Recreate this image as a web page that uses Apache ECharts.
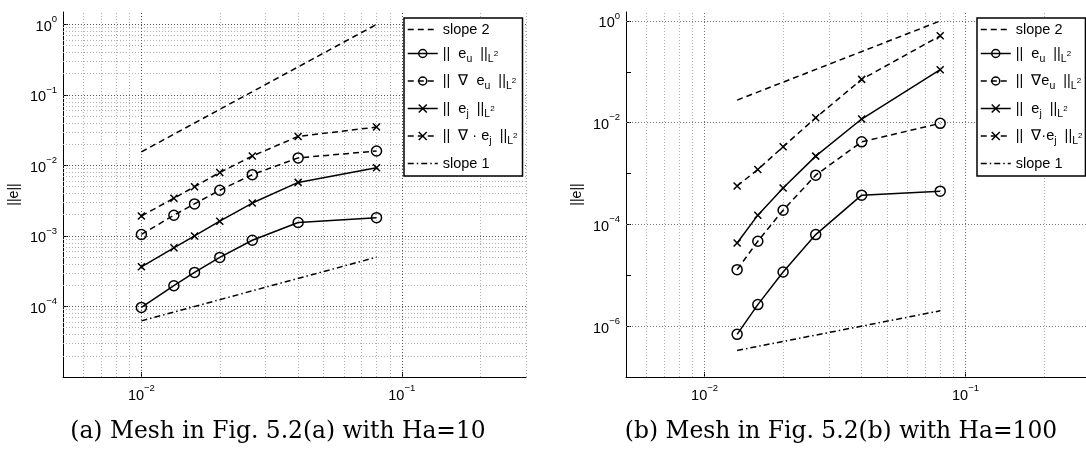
<!DOCTYPE html>
<html>
<head>
<meta charset="utf-8">
<script src="https://cdn.jsdelivr.net/npm/echarts@6/dist/echarts.min.js"></script>
<style>
  html, body { margin: 0; padding: 0; background: #fff; }
  #c { width: 1086px; height: 449px; }
</style>
</head>
<body>
<div id="c"></div>
<script>
// ---- panel (a): mesh of Fig. 5.2(a), Ha = 10 ----
const hA      = [0.01, 0.01333, 0.016, 0.02, 0.02667, 0.04, 0.08];
const euA     = [9.7e-5, 1.97e-4, 3.04e-4, 4.96e-4, 8.7e-4, 1.55e-3, 1.82e-3];
const gradEuA = [1.05e-3, 1.97e-3, 2.85e-3, 4.45e-3, 7.4e-3, 1.28e-2, 1.60e-2];
const ejA     = [3.65e-4, 6.8e-4, 1.0e-3, 1.62e-3, 2.93e-3, 5.75e-3, 9.25e-3];
const divEjA  = [1.92e-3, 3.43e-3, 4.99e-3, 7.95e-3, 1.36e-2, 2.58e-2, 3.5e-2];
const slopeHA = [0.01, 0.08];
const slope2A = [0.0156, 1.0];
const slope1A = [6.25e-5, 5.0e-4];

// ---- panel (b): mesh of Fig. 5.2(b), Ha = 100 ----
const hB      = [0.01333, 0.016, 0.02, 0.02667, 0.04, 0.08];
const euB     = [6.9e-7, 2.65e-6, 1.16e-5, 6.3e-5, 3.76e-4, 4.5e-4];
const gradEuB = [1.29e-5, 4.67e-5, 1.9e-4, 9.3e-4, 4.2e-3, 9.7e-3];
const ejB     = [4.3e-5, 1.52e-4, 5.2e-4, 2.2e-3, 1.18e-2, 0.11];
const divEjB  = [5.7e-4, 1.2e-3, 3.36e-3, 1.25e-2, 7.1e-2, 0.51];
const slopeHB = [0.01333, 0.08];
const slope2B = [0.0278, 1.0];
const slope1B = [3.33e-7, 2.0e-6];

// ---- axes ----
const xRange  = [0.005, 0.3];
const yRangeA = [1e-5, 1.5];
const yRangeB = [1e-7, 1.5];
const xTicks  = [0.01, 0.1];
const yTicksA = [1e-4, 1e-3, 1e-2, 1e-1, 1];
const yTicksB = [1e-6, 1e-5, 1e-4, 1e-3, 1e-2, 1e-1, 1];
const yLabelsA = [1e-4, 1e-3, 1e-2, 1e-1, 1];
const yLabelsB = [1e-6, 1e-4, 1e-2, 1];

// ---- grid lines ----
const mantissas = [2, 3, 4, 5, 6, 7, 8, 9];
const xDecades  = [0.001, 0.01, 0.1];
const yDecadesA = [1e-5, 1e-4, 1e-3, 1e-2, 1e-1];
const xMajor  = [0.01, 0.1];
const yMajorA = [1e-4, 1e-3, 1e-2, 1e-1, 1];
const yMajorB = [1e-6, 1e-4, 1e-2, 1];

const F = "'Liberation Sans', Arial, Helvetica, sans-serif";
const DASH = [6, 4];
const DASHDOT = [6, 3, 1.5, 3];
const CROSS = 'path://M0,0L10,10M10,0L0,10';

function inRange(v, r) { return v > r[0] * 1.0001 && v < r[1] * 0.9999; }
function minorList(decades, range) {
  const out = [];
  decades.forEach(d => mantissas.forEach(m => {
    const v = d * m;
    if (inRange(v, range) || Math.abs(v - range[1]) < 1e-9) out.push(v);
  }));
  return out;
}
const xMinor  = minorList(xDecades, xRange);
const yMinorA = minorList(yDecadesA, yRangeA);

function pairs(xs, ys) { return xs.map((x, i) => [x, ys[i]]); }

function powLabel(v, shown) {
  const e = Math.round(Math.log10(v));
  if (!shown.some(s => Math.abs(Math.log10(s) - e) < 1e-6)) return '';
  if (Math.abs(Math.log10(v) - e) > 1e-6) return '';
  return '{b|10}{s|' + (e < 0 ? '\u2212' + (-e) : String(e)) + '}';
}
const axisRich = {
  b: { fontSize: 14.5, fontFamily: F, color: '#000', lineHeight: 20, verticalAlign: 'bottom' },
  s: { fontSize: 9.5, fontFamily: F, color: '#000', lineHeight: 12, verticalAlign: 'top' }
};

function xAxisOf(gi) {
  return {
    type: 'log', gridIndex: gi, min: xRange[0], max: xRange[1], logBase: 10,
    axisLine: { show: true, lineStyle: { color: '#000', width: 1 } },
    axisTick: { show: true, inside: true, length: 5, customValues: xTicks, lineStyle: { color: '#000' } },
    axisLabel: { margin: 6, customValues: xTicks, formatter: v => powLabel(v, xTicks), rich: axisRich },
    splitLine: { show: false }, minorTick: { show: false }
  };
}
function yAxisOf(gi, range, ticks, labels) {
  return {
    type: 'log', gridIndex: gi, min: range[0], max: range[1], logBase: 10,
    name: '||e||', nameLocation: 'middle', nameGap: 42,
    nameTextStyle: { fontSize: 14, fontFamily: F, color: '#000' },
    axisLine: { show: true, lineStyle: { color: '#000', width: 1 } },
    axisTick: { show: true, inside: true, length: 5, customValues: ticks, lineStyle: { color: '#000' } },
    axisLabel: { margin: 6, customValues: labels, formatter: v => powLabel(v, labels), rich: axisRich },
    splitLine: { show: false }, minorTick: { show: false }
  };
}

function gridSeries(gi, xs, ys, color) {
  return {
    type: 'line', name: 'grid' + gi + color, xAxisIndex: gi, yAxisIndex: gi, data: [],
    silent: true,
    markLine: {
      silent: true, symbol: ['none', 'none'], label: { show: false }, animation: false, z: 1,
      precision: 12,
      emphasis: { disabled: true },
      lineStyle: { color: color, type: [1, 2], width: 1 },
      data: xs.map(v => ({ xAxis: v })).concat(ys.map(v => ({ yAxis: v })))
    }
  };
}

function curve(name, gi, xs, ys, dash, symbol) {
  const s = {
    type: 'line', name: name, xAxisIndex: gi, yAxisIndex: gi,
    data: pairs(xs, ys),
    lineStyle: { color: '#000', width: 1.5, type: dash },
    emphasis: { disabled: true },
    z: 3
  };
  if (symbol === 'o') {
    Object.assign(s, { symbol: 'circle', symbolSize: 10, showAllSymbol: true,
      itemStyle: { color: 'transparent', borderColor: '#000', borderWidth: 1.5 } });
  } else if (symbol === 'x') {
    Object.assign(s, { symbol: CROSS, symbolSize: 7, showAllSymbol: true,
      itemStyle: { color: 'transparent', borderColor: '#000', borderWidth: 1.5 } });
  } else {
    Object.assign(s, { symbol: 'none',
      itemStyle: { color: 'transparent', borderColor: 'transparent', borderWidth: 0 } });
  }
  return s;
}

const legendText = {
  'a:s2':  '{t|slope 2}',
  'a:eu':  '{t|||  e}{sb|u}{t|  ||}{sb|L}{sp|2}',
  'a:geu': '{t|||  \u2207  e}{sb|u}{t|  ||}{sb|L}{sp|2}',
  'a:ej':  '{t|||  e}{sb|j}{t|  ||}{sb|L}{sp|2}',
  'a:gej': '{t|||  \u2207 \u00b7 e}{sb|j}{t|  ||}{sb|L}{sp|2}',
  'a:s1':  '{t|slope 1}',
  'b:s2':  '{t|slope 2}',
  'b:eu':  '{t|||  e}{sb|u}{t|  ||}{sb|L}{sp|2}',
  'b:geu': '{t|||  \u2207e}{sb|u}{t|  ||}{sb|L}{sp|2}',
  'b:ej':  '{t|||  e}{sb|j}{t|  ||}{sb|L}{sp|2}',
  'b:gej': '{t|||  \u2207\u00b7e}{sb|j}{t|  ||}{sb|L}{sp|2}',
  'b:s1':  '{t|slope 1}'
};
const legendRich = {
  t:  { fontSize: 14.5, fontFamily: F, color: '#000', lineHeight: 22 },
  sb: { fontSize: 10.5, fontFamily: F, color: '#000', lineHeight: 12, verticalAlign: 'bottom' },
  sp: { fontSize: 8,  fontFamily: F, color: '#000', lineHeight: 12, verticalAlign: 'middle' }
};
function legendOf(prefix, left, padRight) {
  return {
    data: ['s2', 'eu', 'geu', 'ej', 'gej', 's1'].map(k => prefix + ':' + k),
    orient: 'vertical', left: left, top: 18, align: 'left',
    padding: [4, padRight, 5, 3], itemGap: 9, itemWidth: 30, itemHeight: 10,
    backgroundColor: '#fff', borderColor: '#000', borderWidth: 1.5, borderRadius: 0,
    selectedMode: false,
    lineStyle: { width: 1.5 },
    itemStyle: { borderWidth: 1.5 },
    formatter: n => legendText[n],
    textStyle: { fontSize: 14.5, fontFamily: F, color: '#000', rich: legendRich }
  };
}

const option = {
  animation: false,
  backgroundColor: '#fff',
  grid: [
    { left: 63, right: 560, top: 12, bottom: 72, outerBoundsMode: 'none' },
    { left: 626, right: -4, top: 12, bottom: 72, outerBoundsMode: 'none' }
  ],
  xAxis: [xAxisOf(0), xAxisOf(1)],
  yAxis: [yAxisOf(0, yRangeA, yTicksA, yLabelsA), yAxisOf(1, yRangeB, yTicksB, yLabelsB)],
  legend: [legendOf('a', 404, 5), legendOf('b', 977, 3)],
  series: [
    gridSeries(0, xMinor.filter(v => xMajor.indexOf(v) < 0), yMinorA, '#b0b0b0'),
    gridSeries(0, xMajor, yMajorA, '#555'),
    curve('a:s2', 0, slopeHA, slope2A, DASH, null),
    curve('a:eu', 0, hA, euA, 'solid', 'o'),
    curve('a:geu', 0, hA, gradEuA, DASH, 'o'),
    curve('a:ej', 0, hA, ejA, 'solid', 'x'),
    curve('a:gej', 0, hA, divEjA, DASH, 'x'),
    curve('a:s1', 0, slopeHA, slope1A, DASHDOT, null),

    gridSeries(1, xMinor.filter(v => xMajor.indexOf(v) < 0), [], '#b0b0b0'),
    gridSeries(1, xMajor, yMajorB, '#777'),
    curve('b:s2', 1, slopeHB, slope2B, DASH, null),
    curve('b:eu', 1, hB, euB, 'solid', 'o'),
    curve('b:geu', 1, hB, gradEuB, DASH, 'o'),
    curve('b:ej', 1, hB, ejB, 'solid', 'x'),
    curve('b:gej', 1, hB, divEjB, DASH, 'x'),
    curve('b:s1', 1, slopeHB, slope1B, DASHDOT, null)
  ],
  graphic: [
    { type: 'text', x: 278, y: 432, silent: true,
      style: { text: '(a) Mesh in Fig. 5.2(a) with Ha=10', fontFamily: "'DejaVu Serif', serif",
               fontSize: 23.4, fill: '#000', align: 'center', verticalAlign: 'middle' } },
    { type: 'text', x: 841, y: 432, silent: true,
      style: { text: '(b) Mesh in Fig. 5.2(b) with Ha=100', fontFamily: "'DejaVu Serif', serif",
               fontSize: 23.4, fill: '#000', align: 'center', verticalAlign: 'middle' } }
  ]
};

const chart = echarts.init(document.getElementById('c'), null, { renderer: 'canvas' });
chart.setOption(option);
</script>
</body>
</html>
